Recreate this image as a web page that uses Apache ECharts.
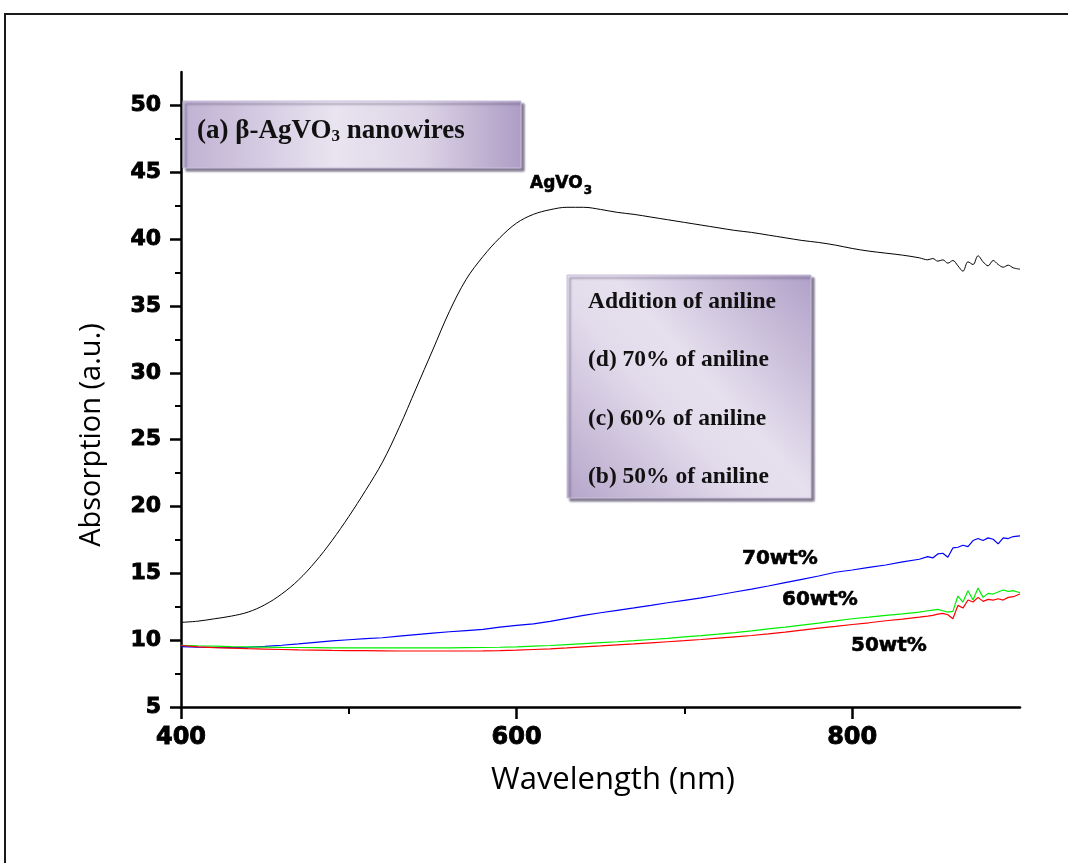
<!DOCTYPE html>
<html>
<head>
<meta charset="utf-8">
<script src="https://cdn.jsdelivr.net/npm/echarts@6/dist/echarts.min.js"></script>
<style>html,body{margin:0;padding:0;background:#fff}#c{width:1068px;height:863px}</style>
</head>
<body>
<div id="c"></div>
<script>
// Wavelength (nm)
const wavelength = [400,410,420,430,440,450,460,470,480,490,500,510,520,530,540,550,560,570,580,590,600,610,620,630,640,650,660,670,680,690,700,710,720,730,740,750,760,770,780,790,800,810,820,830,840,845,848,851,854,857,860,863,866,869,872,875,878,881,884,887,890,893,896,900];
// AgVO3
const agvo3 = [11.33,11.42,11.6,11.8,12.1,12.65,13.45,14.5,15.85,17.45,19.25,21.2,23.3,25.9,28.8,31.7,34.6,37.0,38.7,40.1,41.2,41.85,42.2,42.38,42.38,42.22,42.0,41.85,41.65,41.45,41.25,41.05,40.85,40.65,40.5,40.3,40.1,39.9,39.75,39.55,39.3,39.1,38.95,38.8,38.6,38.45,38.55,38.35,38.45,38.2,38.4,38.0,37.6,38.3,38.1,38.75,38.3,38.0,38.4,38.1,37.9,38.05,37.85,37.75];
// 70wt%
const wt70 = [9.52,9.48,9.45,9.44,9.47,9.53,9.62,9.72,9.84,9.94,10.03,10.11,10.18,10.3,10.42,10.53,10.63,10.72,10.8,10.98,11.1,11.22,11.4,11.63,11.85,12.05,12.23,12.41,12.6,12.8,12.98,13.16,13.38,13.6,13.82,14.05,14.3,14.55,14.8,15.08,15.25,15.45,15.62,15.85,16.05,16.25,16.15,16.45,16.5,16.2,16.9,16.95,17.1,17.0,17.45,17.6,17.45,17.65,17.55,17.2,17.65,17.6,17.75,17.8];
// 60wt%
const wt60 = [9.62,9.58,9.55,9.52,9.5,9.48,9.46,9.45,9.44,9.43,9.43,9.42,9.42,9.42,9.42,9.42,9.43,9.44,9.45,9.47,9.5,9.55,9.6,9.67,9.74,9.81,9.88,9.96,10.05,10.14,10.24,10.34,10.45,10.57,10.7,10.84,10.98,11.13,11.28,11.44,11.6,11.72,11.85,11.97,12.1,12.2,12.25,12.3,12.2,12.1,12.15,13.3,12.85,13.7,13.0,13.9,13.2,13.5,13.45,13.6,13.75,13.65,13.7,13.55];
// 50wt%
const wt50 = [9.6,9.5,9.44,9.4,9.36,9.33,9.3,9.27,9.25,9.23,9.22,9.21,9.2,9.19,9.19,9.19,9.19,9.19,9.2,9.22,9.25,9.3,9.35,9.42,9.5,9.57,9.65,9.72,9.8,9.88,9.96,10.05,10.15,10.25,10.35,10.47,10.6,10.75,10.9,11.03,11.17,11.3,11.45,11.58,11.72,11.8,11.85,11.95,12.0,11.9,11.6,12.6,12.4,13.0,12.85,13.2,12.9,13.05,13.0,13.1,13.0,13.2,13.25,13.45];

const yTicks = [5,10,15,20,25,30,35,40,45,50];
const xTicks = [400,600,800];

function pairs(vals){ return wavelength.map((w,i)=>[w, vals[i]]); }

const chart = echarts.init(document.getElementById('c'), null, {renderer:'canvas'});
const tickFont = {fontFamily:'DejaVu Sans', fontWeight:'bold', color:'#000', textBorderColor:'#000', textBorderWidth:0.9};
const heavy = {fontFamily:'DejaVu Sans', fontWeight:'bold', fill:'#000', stroke:'#000', lineWidth:0.6};

chart.setOption({
  animation:false,
  backgroundColor:'#fff',
  grid:{left:181, right:48, top:72, bottom:156},
  xAxis:{
    type:'value', min:400, max:900, interval:200,
    axisLine:{show:true, onZero:false, lineStyle:{color:'#000', width:2.5}},
    axisTick:{show:true, length:12, customValues:xTicks, lineStyle:{color:'#000', width:2.5}},
    minorTick:{show:true, splitNumber:2, length:7, lineStyle:{color:'#000', width:2}},
    axisLabel:{customValues:xTicks, margin:19, fontSize:24, ...tickFont},
    splitLine:{show:false}
  },
  yAxis:{
    type:'value', min:5, max:52.5, interval:5,
    axisLine:{show:true, onZero:false, lineStyle:{color:'#000', width:2.5}},
    axisTick:{show:true, length:11, customValues:yTicks, lineStyle:{color:'#000', width:2.5}},
    minorTick:{show:true, splitNumber:2, length:6, lineStyle:{color:'#000', width:2}},
    axisLabel:{customValues:yTicks, margin:20, fontSize:22, ...tickFont},
    splitLine:{show:false}
  },
  series:[
    {name:'AgVO3', type:'line', data:pairs(agvo3), showSymbol:false, smooth:0.35, lineStyle:{color:'#000', width:1}, z:3},
    {name:'70wt%', type:'line', data:pairs(wt70), showSymbol:false, lineStyle:{color:'#0000ff', width:1.2}, z:3},
    {name:'60wt%', type:'line', data:pairs(wt60), showSymbol:false, lineStyle:{color:'#00ee00', width:1.2}, z:3},
    {name:'50wt%', type:'line', data:pairs(wt50), showSymbol:false, lineStyle:{color:'#ff0000', width:1.2}, z:4}
  ],
  graphic:[
    {type:'rect', shape:{x:5, y:14, width:1100, height:900}, style:{fill:'none', stroke:'#1a1a1a', lineWidth:2}, silent:true, z:-10},
    {type:'rect', shape:{x:183, y:101, width:338, height:67},
      style:{fill:new echarts.graphic.LinearGradient(0,0,1,0,[{offset:0,color:'#bfb1d3'},{offset:0.45,color:'#e9e4f0'},{offset:0.7,color:'#ddd5e7'},{offset:1,color:'#ae9dc5'}]),
        stroke:'#c9bedb', lineWidth:1, shadowColor:'rgba(80,70,100,0.7)', shadowOffsetX:3, shadowOffsetY:3, shadowBlur:2}, z:10},
    {type:'text', x:197, y:131, z:11,
      style:{text:'{t|(a) β-AgVO}{s|3}{t| nanowires}', verticalAlign:'middle',
        rich:{t:{fontFamily:'Liberation Serif', fontWeight:'bold', fontSize:27, fill:'#111'},
              s:{fontFamily:'Liberation Serif', fontWeight:'bold', fontSize:17, fill:'#111', padding:[11,0,0,0]}}}},
    {type:'rect', shape:{x:567, y:275, width:244, height:223},
      style:{fill:new echarts.graphic.LinearGradient(1,0,0,1,[{offset:0,color:'#b0a0c8'},{offset:0.45,color:'#e6e0ee'},{offset:0.6,color:'#e2dbeb'},{offset:1,color:'#b5a5ca'}]),
        stroke:'#c9bedb', lineWidth:1, shadowColor:'rgba(80,70,100,0.7)', shadowOffsetX:3, shadowOffsetY:3, shadowBlur:2}, z:10},
    {type:'text', x:588, y:302, z:11, style:{text:'Addition of aniline', verticalAlign:'middle', fontFamily:'Liberation Serif', fontWeight:'bold', fontSize:23.5, fill:'#111'}},
    {type:'text', x:588, y:360, z:11, style:{text:'(d) 70% of aniline', verticalAlign:'middle', fontFamily:'Liberation Serif', fontWeight:'bold', fontSize:23.5, fill:'#111'}},
    {type:'text', x:588, y:419, z:11, style:{text:'(c) 60% of aniline', verticalAlign:'middle', fontFamily:'Liberation Serif', fontWeight:'bold', fontSize:23.5, fill:'#111'}},
    {type:'text', x:588, y:477, z:11, style:{text:'(b) 50% of aniline', verticalAlign:'middle', fontFamily:'Liberation Serif', fontWeight:'bold', fontSize:23.5, fill:'#111'}},
    {type:'text', x:530, y:184, z:11,
      style:{text:'{t|AgVO}{s|3}', verticalAlign:'middle',
        rich:{t:{...heavy, fontSize:17}, s:{...heavy, fontSize:12, padding:[13,0,0,1]}}}},
    {type:'text', x:742, y:559, z:11, style:{text:'70wt%', verticalAlign:'middle', ...heavy, fontSize:20}},
    {type:'text', x:782, y:600, z:11, style:{text:'60wt%', verticalAlign:'middle', ...heavy, fontSize:20}},
    {type:'text', x:851, y:646, z:11, style:{text:'50wt%', verticalAlign:'middle', ...heavy, fontSize:20}},
    {type:'text', x:613, y:780, z:11, style:{text:'Wavelength (nm)', align:'center', verticalAlign:'middle', fontFamily:'Open Sans', fontSize:31, fill:'#000'}},
    {type:'text', x:92, y:435, rotation:Math.PI/2, z:11, style:{text:'Absorption (a.u.)', align:'center', verticalAlign:'middle', fontFamily:'Open Sans', fontSize:29, fill:'#000'}}
  ]
});
</script>
</body>
</html>
